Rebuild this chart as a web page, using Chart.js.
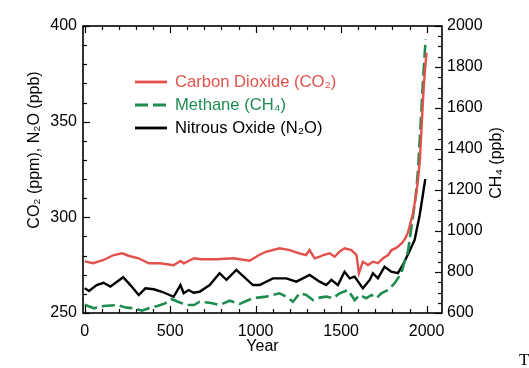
<!DOCTYPE html>
<html><head><meta charset="utf-8">
<script src="https://cdn.jsdelivr.net/npm/chart.js@4.4.0/dist/chart.umd.min.js"></script>
<style>html,body{margin:0;padding:0;background:#fff}#wrap{width:529px;height:368px;position:relative}</style>
</head><body><div id="wrap"><canvas id="c" width="529" height="368"></canvas></div>
<script>
// ---- data ----
const co2Years  = [0,50,110,170,220,260,315,375,440,520,560,580,640,680,770,870,965,1020,1060,1140,1200,1255,1295,1315,1345,1375,1395,1433,1462,1490,1520,1560,1590,1604,1627,1657,1686,1715,1745,1775,1795,1823,1855,1875,1891,1920,1940,1950,1960,1970,1980,1990,2000];
const co2Values = [277,276,277.7,280.3,281.2,279.8,278.6,276,276,275,277.2,276,278.6,278.1,278.1,278.6,277.3,280.3,282,283.8,282.9,281.2,280.3,282.9,278.6,279.4,280.3,281.2,279.4,282,283.8,282.9,280.3,270.8,276.8,275.1,276.8,276,278.6,280.3,282.9,284,286.5,289,292,302,312.6,320,329,346,363,377,386];

const ch4Years  = [0,55,110,190,245,290,335,375,425,470,510,560,600,640,672,731,789,848,906,984,1062,1140,1179,1218,1257,1296,1335,1374,1413,1452,1491,1540,1579,1608,1647,1677,1706,1735,1774,1813,1852,1871,1891,1920,1935,1950,1960,1970,1980,1990,1995];
const ch4Values = [640,623,634,639,626,623,611,623,634,647,667,650,639,639,655,650,639,660,644,672,680,696,680,655,696,688,663,675,680,672,696,712,663,688,672,688,672,696,712,745,794,850,900,1070,1160,1300,1450,1600,1750,1880,1935];

const n2oYears  = [0,25,70,110,150,225,267,316,355,404,452,520,560,579,608,637,672,731,789,829,887,984,1023,1101,1179,1238,1316,1374,1413,1443,1481,1520,1550,1579,1627,1667,1686,1715,1754,1793,1832,1861,1901,1930,1959,1975,1992];
const n2oValues = [263,261.5,264.6,265.8,263.8,268.7,264.6,259.4,262.9,262.4,261.1,258.5,264.6,260.3,262,260.6,261.1,264.6,270.8,267.3,272.5,264.6,264.6,268.1,268.1,266.4,269.9,266.4,264.6,267.3,264.6,271.6,268.1,269,262.9,267.3,270.8,268.1,274.2,271.6,270.8,275.1,282.5,288.2,301,310,320];

const seriesLabels = ['Carbon Dioxide (CO\u2082)','Methane (CH\u2084)','Nitrous Oxide (N\u2082O)'];
const xTickLabels  = [0,500,1000,1500,2000];
const yTickLabels  = [250,300,350,400];
const y2TickLabels = [600,800,1000,1200,1400,1600,1800,2000];

const RED = '#e2514b', GREEN = '#1f8c52', BLACK = '#000000';
const FONT = '"Liberation Sans", Arial, Helvetica, sans-serif';

function pts(xs, ys){ return xs.map((x,i)=>({x:x, y:ys[i]})); }
function range(a,b,s){ const r=[]; for(let v=a; v<=b; v+=s) r.push(v); return r; }

const decor = {
  id:'decor',
  afterDraw(chart){
    const ctx = chart.ctx;
    const {left,right,top,bottom} = chart.chartArea;
    const xs = chart.scales.x, ys = chart.scales.y, y2 = chart.scales.y2;
    ctx.save();
    ctx.strokeStyle = '#000';
    ctx.lineWidth = 1.2;
    const seg = (a,b,c,d)=>{ ctx.beginPath(); ctx.moveTo(a,b); ctx.lineTo(c,d); ctx.stroke(); };
    xs.ticks.forEach(t=>{
      const p = Math.round(xs.getPixelForValue(t.value))+0.5;
      const len = xTickLabels.includes(t.value) ? 7 : 4;
      seg(p,bottom,p,bottom-len); seg(p,top,p,top+len);
    });
    ys.ticks.forEach(t=>{
      const p = Math.round(ys.getPixelForValue(t.value))+0.5;
      const len = yTickLabels.includes(t.value) ? 7 : 4;
      seg(left,p,left+len,p);
    });
    y2.ticks.forEach(t=>{
      const p = Math.round(y2.getPixelForValue(t.value))+0.5;
      const len = y2TickLabels.includes(t.value) ? 7 : 4;
      seg(right,p,right-len,p);
    });
    ctx.lineWidth = 1.6;
    ctx.strokeRect(left, top, right-left, bottom-top);

    // axis titles
    ctx.fillStyle = '#000';
    ctx.font = '16px ' + FONT;
    ctx.textAlign = 'center'; ctx.textBaseline = 'middle';
    ctx.fillText('Year', (left+right)/2, 347);
    ctx.save(); ctx.translate(35,150); ctx.rotate(-Math.PI/2);
    ctx.fillText('CO\u2082 (ppm), N\u2082O (ppb)', 0, 0); ctx.restore();
    ctx.save(); ctx.translate(497,163); ctx.rotate(-Math.PI/2);
    ctx.fillText('CH\u2084 (ppb)', 0, 0); ctx.restore();

    // legend
    const ly = [82,105,128];
    ctx.font = '16.6px ' + FONT;
    chart.data.datasets.forEach((ds,i)=>{
      ctx.strokeStyle = ds.borderColor; ctx.lineWidth = 2.8;
      ctx.setLineDash(ds.borderDash || []);
      seg(135, ly[i], 167, ly[i]);
      ctx.setLineDash([]);
      ctx.fillStyle = ds.borderColor;
      ctx.textAlign = 'left';
      ctx.fillText(ds.label, 175, ly[i]);
    });

    // stray character at the picture's bottom-right edge
    ctx.fillStyle = '#000';
    ctx.font = '17px "Liberation Serif", "DejaVu Serif", serif';
    ctx.textAlign = 'left'; ctx.textBaseline = 'alphabetic';
    ctx.fillText('T', 519, 365);
    ctx.restore();
  }
};

new Chart(document.getElementById('c').getContext('2d'), {
  type:'line',
  data:{datasets:[
    {label:seriesLabels[0], data:pts(co2Years,co2Values), borderColor:RED, borderWidth:2.4, pointRadius:0, yAxisID:'y', tension:0},
    {label:seriesLabels[1], data:pts(ch4Years,ch4Values), borderColor:GREEN, borderWidth:2.6, borderDash:[13,5], pointRadius:0, yAxisID:'y2', tension:0},
    {label:seriesLabels[2], data:pts(n2oYears,n2oValues), borderColor:BLACK, borderWidth:2.4, pointRadius:0, yAxisID:'y', tension:0}
  ]},
  options:{
    responsive:false, animation:false, devicePixelRatio:1,
    layout:{padding:{top:26,left:0,right:0,bottom:0}},
    plugins:{legend:{display:false}, tooltip:{enabled:false}},
    scales:{
      x:{type:'linear', position:'bottom', min:-10, max:2090,
         grid:{display:false, drawTicks:false}, border:{display:false},
         afterBuildTicks:s=>{ s.ticks = range(0,2000,100).map(v=>({value:v})); },
         ticks:{autoSkip:false, maxRotation:0, padding:9, color:'#000', font:{size:16, family:FONT},
                callback:v=> xTickLabels.includes(v) ? String(v) : ''},
         afterFit:s=>{ s.height = 55; }},
      y:{type:'linear', position:'left', min:250, max:400,
         grid:{display:false, drawTicks:false}, border:{display:false},
         afterBuildTicks:s=>{ s.ticks = range(250,400,10).map(v=>({value:v})); },
         ticks:{autoSkip:false, padding:6, color:'#000', font:{size:16, family:FONT},
                callback:v=> yTickLabels.includes(v) ? String(v) : ''},
         afterFit:s=>{ s.width = 83; }},
      y2:{type:'linear', position:'right', min:600, max:2000,
         grid:{display:false, drawTicks:false}, border:{display:false},
         afterBuildTicks:s=>{ s.ticks = range(600,2000,50).map(v=>({value:v})); },
         ticks:{autoSkip:false, padding:5, color:'#000', font:{size:16, family:FONT},
                callback:v=> y2TickLabels.includes(v) ? String(v) : ''},
         afterFit:s=>{ s.width = 87; }}
    }
  },
  plugins:[decor]
});
</script></body></html>
